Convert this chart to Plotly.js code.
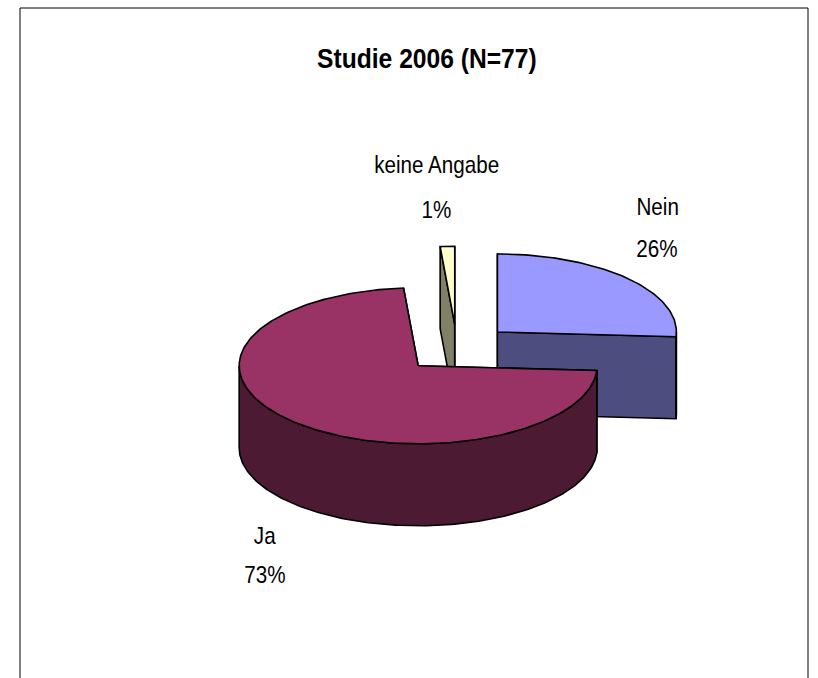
<!DOCTYPE html>
<html>
<head>
<meta charset="utf-8">
<script src="https://cdn.plot.ly/plotly-3.0.1.min.js"></script>
<style>html,body{margin:0;padding:0;background:#fff;}#chart{width:818px;height:678px;}</style>
</head>
<body>
<div id="chart"></div>
<script>
// ---- data ----
var categories = ["Nein", "Ja", "keine Angabe"];
var counts = [20, 56, 1];           // N = 77
var chartTitle = "Studie 2006 (N=77)";

// ---- styles ----
var topColors  = ["#9999FF", "#993366", "#FFFFCC"];
var sideColors = ["#4D4D80", "#4D1A33", "#808066"];
var FONT = "'Liberation Sans', Arial, sans-serif";

// geometry of the tilted pie (pixels)
var geo = {cx: 457, cy: 348.5, rx: 179, ry: 78, depth: 82, explode: 0.31};
// label centres: [x, y of name line, y of percent line]
var labelPos = [[657, 206, 248], [265, 535, 574], [436, 164, 209]];

var total = counts.reduce(function(a, b){ return a + b; }, 0);
var rad = Math.PI / 180;
function rim(c, a, dz) {
  return [c[0] + geo.rx * Math.sin(a * rad), c[1] - geo.ry * Math.cos(a * rad) + (dz || 0)];
}
function arc(c, a1, a2, dz) {
  var pts = [], n = Math.max(2, Math.ceil(Math.abs(a2 - a1)));
  for (var k = 0; k <= n; k++) pts.push(rim(c, a1 + (a2 - a1) * k / n, dz));
  return pts;
}
function poly(pts, color) {
  var xs = pts.map(function(p){ return p[0]; }), ys = pts.map(function(p){ return p[1]; });
  xs.push(xs[0]); ys.push(ys[0]);
  return {type: "scatter", mode: "lines", x: xs, y: ys, fill: "toself", fillcolor: color,
          line: {color: "#000", width: 1.6}, hoverinfo: "skip", showlegend: false};
}

// slice angles (clockwise from 12 o'clock)
var slices = [], acc = 0;
counts.forEach(function(v, i) {
  var a1 = acc / total * 360; acc += v; var a2 = acc / total * 360;
  var mid = (a1 + a2) / 2;
  var c = [geo.cx + geo.explode * geo.rx * Math.sin(mid * rad),
           geo.cy - geo.explode * geo.ry * Math.cos(mid * rad)];
  slices.push({i: i, a1: a1, a2: a2, c: c});
});

// draw back-to-front: keine Angabe, Nein, Ja
var order = [2, 0, 1];
var traces = [];
order.forEach(function(i) {
  var s = slices[i], c = s.c, d = geo.depth;
  [s.a1, s.a2].forEach(function(a) {
    var r = rim(c, a), rd = rim(c, a, d);
    traces.push(poly([c, r, rd, [c[0], c[1] + d]], sideColors[i]));
  });
  var f1 = Math.max(s.a1, 90), f2 = Math.min(s.a2, 270);
  if (f2 > f1) {
    traces.push(poly(arc(c, f1, f2, 0).concat(arc(c, f2, f1, d)), sideColors[i]));
  }
  traces.push(poly([c].concat(arc(c, s.a1, s.a2, 0)), topColors[i]));
});

var annotations = [{
  text: "<b>" + chartTitle + "</b>", x: 427, y: 58, xref: "x", yref: "y",
  showarrow: false, font: {family: FONT, size: 28, color: "#000"}
}];
categories.forEach(function(cat, i) {
  var pct = Math.round(counts[i] / total * 100) + "%";
  [[cat, labelPos[i][1]], [pct, labelPos[i][2]]].forEach(function(t) {
    annotations.push({
      text: t[0], x: labelPos[i][0], y: t[1], xref: "x", yref: "y", showarrow: false,
      font: {family: FONT, size: 24, color: "#000"}
    });
  });
});

var layout = {
  width: 818, height: 678,
  margin: {l: 0, r: 0, t: 0, b: 0},
  paper_bgcolor: "#fff", plot_bgcolor: "#fff",
  xaxis: {range: [0, 818], visible: false, fixedrange: true},
  yaxis: {range: [678, 0], visible: false, fixedrange: true},
  annotations: annotations,
  shapes: [{type: "rect", xref: "x", yref: "y", x0: 20, y0: 8, x1: 808, y1: 700,
            line: {color: "#000", width: 1}, fillcolor: "rgba(0,0,0,0)", layer: "below"}]
};

Plotly.newPlot("chart", traces, layout, {displayModeBar: false, staticPlot: true}).then(function(gd) {
  // emulate the condensed (Arial Narrow) look of the original text
  var texts = gd.querySelectorAll("g.annotation text.annotation-text");
  texts.forEach(function(t, k) {
    var bb = t.getBBox();
    var cx = bb.x + bb.width / 2;
    var s = (k === 0) ? 0.88 : 0.86;
    t.setAttribute("transform", "translate(" + cx + ",0) scale(" + s + ",1) translate(" + (-cx) + ",0)");
  });
});
</script>
</body>
</html>
